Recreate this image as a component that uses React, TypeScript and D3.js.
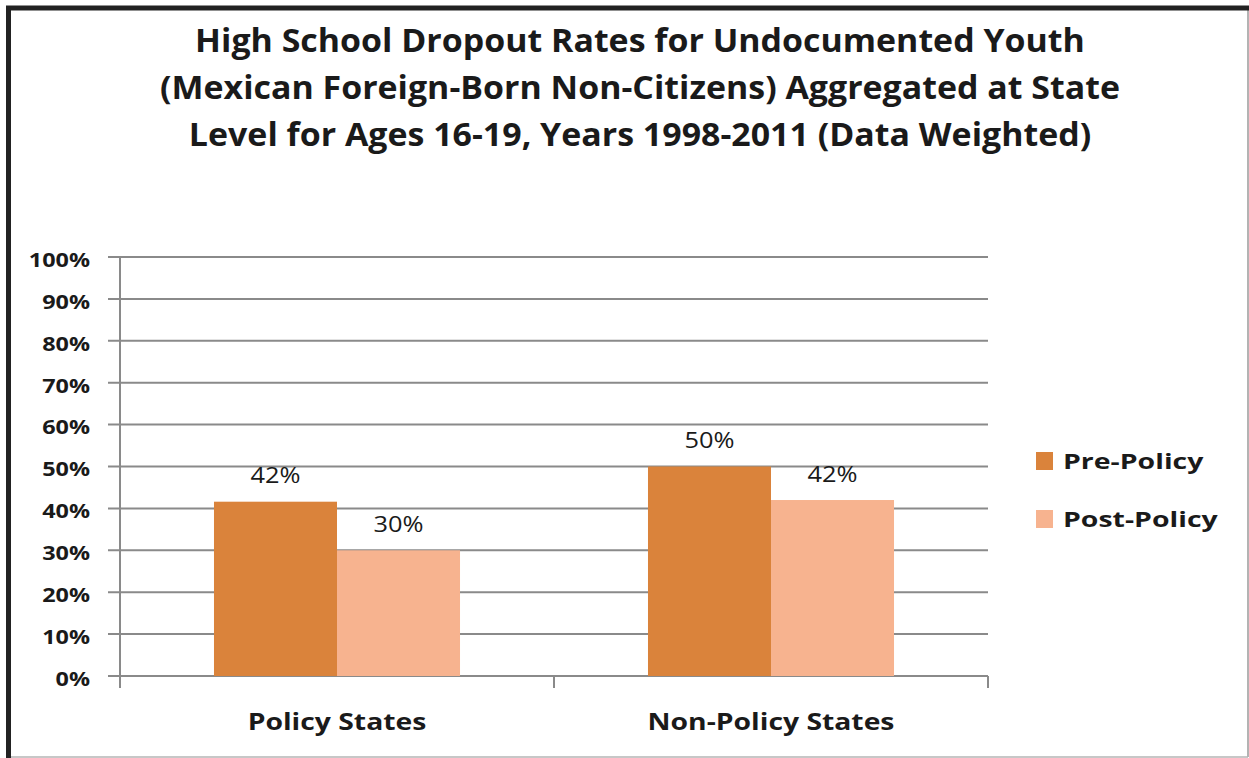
import React from "react";
import * as d3 from "d3";

const categories = ["Policy States", "Non-Policy States"];
const seriesNames = ["Pre-Policy", "Post-Policy"];
const prePolicy = [0.416, 0.50];
const postPolicy = [0.30, 0.42];
const valueLabels = [["42%", "30%"], ["50%", "42%"]];
const yTicks = [0, 0.1, 0.2, 0.3, 0.4, 0.5, 0.6, 0.7, 0.8, 0.9, 1.0];
const titleLines = [
  "High School Dropout Rates for Undocumented Youth",
  "(Mexican Foreign-Born Non-Citizens) Aggregated at State",
  "Level for Ages 16-19, Years 1998-2011 (Data Weighted)",
];
const colors = ["#DA833B", "#F7B38F"];

const W = 1249, H = 758;
const plot = { left: 120, right: 988, top: 257, bottom: 676 };
const FONT = "'Open Sans', Lato, sans-serif";

function SText({ x, y, size, weight, anchor, sx, children, fill = "#1a1a1a" }: any) {
  return (
    <text
      transform={`translate(${x},${y}) scale(${sx},1)`}
      fontFamily={FONT}
      fontSize={size}
      fontWeight={weight}
      textAnchor={anchor}
      dominantBaseline="central"
      fill={fill}
    >
      {children}
    </text>
  );
}

export default function App() {
  const y = d3.scaleLinear().domain([0, 1]).range([plot.bottom, plot.top]);
  const x0 = d3.scaleBand<string>().domain(categories).range([plot.left, plot.right]).paddingInner(0).paddingOuter(0);
  const x1 = d3.scaleBand<string>().domain(seriesNames).range([0, x0.bandwidth()]).paddingOuter(0.764).paddingInner(0);
  const series = [prePolicy, postPolicy];

  return (
    <div style={{ position: "absolute", left: 0, top: 0 }}>
      <svg width={W} height={H} style={{ display: "block" }}>
        <rect x={0} y={0} width={W} height={H} fill="#ffffff" />
        {/* frame */}
        <line x1={1248} y1={8} x2={1248} y2={757} stroke="#9a9a9a" strokeWidth={1.5} />
        <line x1={8} y1={757} x2={1248} y2={757} stroke="#b5b5b5" strokeWidth={1.5} />
        <line x1={6} y1={8} x2={W} y2={8} stroke="#222" strokeWidth={5} />
        <line x1={8.5} y1={6} x2={8.5} y2={H} stroke="#222" strokeWidth={5} />

        {/* title */}
        {titleLines.map((t, i) => (
          <SText key={i} x={640} y={40 + i * 47} size={32} weight={700} anchor="middle" sx={1.06}>{t}</SText>
        ))}

        {/* gridlines and y ticks */}
        {yTicks.map((t) => (
          <g key={t}>
            <line x1={plot.left - 12} x2={plot.right} y1={y(t)} y2={y(t)} stroke="#8a8a8a" strokeWidth={2} />
            <SText x={90} y={y(t) + 2} size={20} weight={700} anchor="end" sx={1.17}>{d3.format(".0%")(t)}</SText>
          </g>
        ))}
        {/* y axis */}
        <line x1={plot.left} x2={plot.left} y1={plot.top} y2={plot.bottom + 12} stroke="#8a8a8a" strokeWidth={2} />
        {/* category ticks */}
        {categories.map((c) => (
          <line key={c} x1={(x0(c) as number) + x0.bandwidth()} x2={(x0(c) as number) + x0.bandwidth()} y1={plot.bottom} y2={plot.bottom + 12} stroke="#8a8a8a" strokeWidth={2} />
        ))}

        {/* bars */}
        {categories.map((c, ci) => (
          <g key={c} transform={`translate(${x0(c)},0)`}>
            {series.map((s, si) => {
              const bx = x1(seriesNames[si]) as number;
              return (
                <g key={si}>
                  <rect x={bx} y={y(s[ci])} width={x1.bandwidth()} height={plot.bottom - y(s[ci])} fill={colors[si]} />
                  <SText x={bx + x1.bandwidth() / 2} y={y(s[ci]) - 26.5} size={21} weight={400} anchor="middle" sx={1.21}>{valueLabels[ci][si]}</SText>
                </g>
              );
            })}
          </g>
        ))}

        {/* category labels */}
        {categories.map((c) => (
          <SText key={c} x={(x0(c) as number) + x0.bandwidth() / 2} y={721} size={24} weight={700} anchor="middle" sx={1.18}>{c}</SText>
        ))}

        {/* legend */}
        {seriesNames.map((n, i) => (
          <g key={n}>
            <rect x={1036} y={452 + i * 58} width={17} height={18} fill={colors[i]} />
            <SText x={1063} y={461 + i * 58} size={21} weight={700} anchor="start" sx={1.355}>{n}</SText>
          </g>
        ))}
      </svg>
    </div>
  );
}
